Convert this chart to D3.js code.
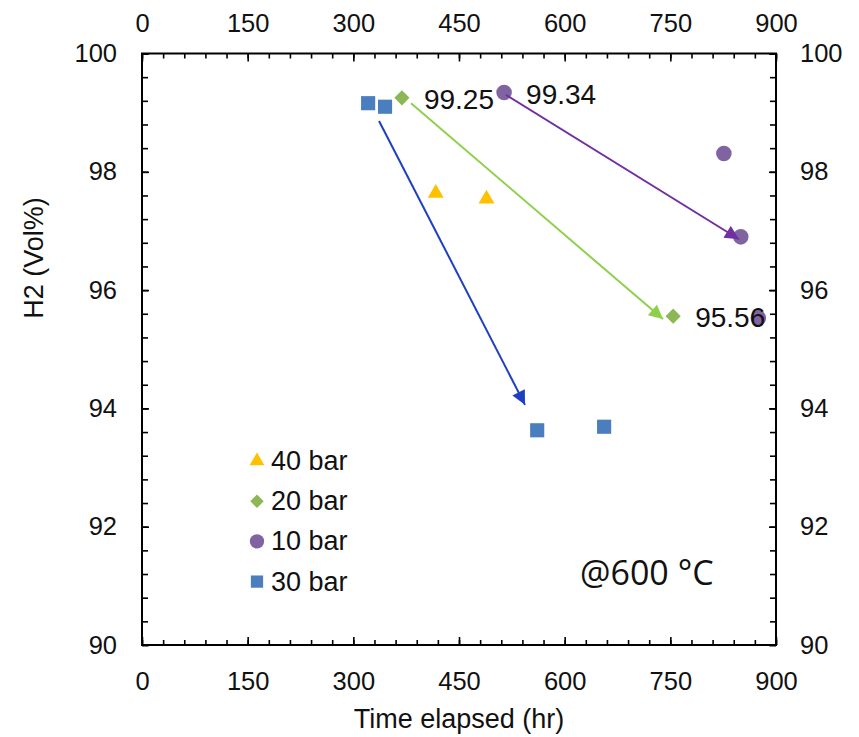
<!DOCTYPE html>
<html>
<head>
<meta charset="utf-8">
<script src="https://cdn.jsdelivr.net/npm/d3@7"></script>
<style>
  body { margin: 0; background: #fff; }
  svg { font-family: "Liberation Sans", Arial, sans-serif; }
</style>
</head>
<body>
<script>
// series values (hours, H2 vol%)
var hours40 = [417, 489];
var h2_40 = [97.64, 97.54];
var hours20 = [369, 754];
var h2_20 = [99.25, 95.56];
var hours10 = [514, 826, 850, 875];
var h2_10 = [99.34, 98.31, 96.90, 95.53];
var hours30 = [321, 345, 561, 656];
var h2_30 = [99.16, 99.10, 93.63, 93.69];

var seriesNames = ["40 bar", "20 bar", "10 bar", "30 bar"];

var xTicks = [0, 150, 300, 450, 600, 750, 900];
var yTicks = [90, 92, 94, 96, 98, 100];

// value labels
var labelHours = [369, 514, 754];
var labelH2 = [99.25, 99.34, 95.56];

// arrows [x1, y1, x2, y2] in data units
var arrowBlue = [336.5, 98.86, 543.7, 94.06];
var arrowGreen = [381.9, 99.16, 739.6, 95.51];
var arrowPurple = [516.7, 99.30, 847.5, 96.86];

var w = 859, h = 737;
var pLeft = 142, pRight = 776, pTop = 53.5, pBottom = 645;

var svg = d3.select("body").append("svg")
  .attr("width", w)
  .attr("height", h);

var x = d3.scaleLinear().domain([0, 900]).range([pLeft, pRight]);
var y = d3.scaleLinear().domain([90, 100]).range([pBottom, pTop]);

var minorX = d3.range(0, 901, 30);
var minorY = d3.range(90, 100.01, 0.4);

function styleAxis(g) {
  g.select(".domain").remove();
  g.selectAll("line").attr("stroke", "#000").attr("stroke-width", 1.6);
  g.selectAll("text").attr("font-size", "25.5px").attr("fill", "#111");
}

// minor ticks
svg.append("g").attr("transform", "translate(0," + pBottom + ")")
  .call(d3.axisBottom(x).tickValues(minorX).tickSize(-5).tickFormat("")).call(styleAxis);
svg.append("g").attr("transform", "translate(0," + pTop + ")")
  .call(d3.axisTop(x).tickValues(minorX).tickSize(-5).tickFormat("")).call(styleAxis);
svg.append("g").attr("transform", "translate(" + pLeft + ",0)")
  .call(d3.axisLeft(y).tickValues(minorY).tickSize(-6).tickFormat("")).call(styleAxis);
svg.append("g").attr("transform", "translate(" + pRight + ",0)")
  .call(d3.axisRight(y).tickValues(minorY).tickSize(-6).tickFormat("")).call(styleAxis);

// major ticks + labels
svg.append("g").attr("transform", "translate(0," + pBottom + ")")
  .call(d3.axisBottom(x).tickValues(xTicks).tickSize(-8).tickPadding(27)).call(styleAxis);
svg.append("g").attr("transform", "translate(0," + pTop + ")")
  .call(d3.axisTop(x).tickValues(xTicks).tickSize(-8).tickPadding(22)).call(styleAxis);
svg.append("g").attr("transform", "translate(" + pLeft + ",0)")
  .call(d3.axisLeft(y).tickValues(yTicks).tickSize(-7).tickPadding(25)).call(styleAxis);
svg.append("g").attr("transform", "translate(" + pRight + ",0)")
  .call(d3.axisRight(y).tickValues(yTicks).tickSize(-7).tickPadding(24)).call(styleAxis);

// frame
svg.append("rect")
  .attr("x", pLeft).attr("y", pTop)
  .attr("width", pRight - pLeft).attr("height", pBottom - pTop)
  .attr("fill", "none").attr("stroke", "#000").attr("stroke-width", 2);

// axis titles
svg.append("text")
  .attr("x", (pLeft + pRight) / 2).attr("y", 728)
  .attr("text-anchor", "middle").attr("font-size", "27px").attr("fill", "#111")
  .text("Time elapsed (hr)");
svg.append("text")
  .attr("transform", "translate(43,258) rotate(-90)")
  .attr("text-anchor", "middle").attr("font-size", "27px").attr("fill", "#111")
  .text("H2 (Vol%)");

// markers
var triangle = d3.symbol().type(d3.symbolTriangle).size(110);
var diamond = d3.symbol().type(d3.symbolSquare).size(115);
var circle = d3.symbol().type(d3.symbolCircle).size(190);
var square = d3.symbol().type(d3.symbolSquare).size(200);

function drawSeries(xs, ys, sym, color, rot) {
  svg.append("g").selectAll("path")
    .data(xs)
    .enter()
    .append("path")
    .attr("d", sym)
    .attr("transform", function(d, i) {
      return "translate(" + x(d) + "," + y(ys[i]) + ")" + (rot ? " rotate(" + rot + ")" : "");
    })
    .attr("fill", color);
}

drawSeries(hours30, h2_30, square, "#4a7ebf", 0);
drawSeries(hours40, h2_40, triangle, "#ffc000", 0);
drawSeries(hours10, h2_10, circle, "#8064a2", 0);
drawSeries(hours20, h2_20, diamond, "#8db654", 45);

// arrows
var defs = svg.append("defs");
function addArrow(a, color, id) {
  defs.append("marker")
    .attr("id", id)
    .attr("viewBox", "0 0 10 10")
    .attr("refX", 10).attr("refY", 5)
    .attr("markerUnits", "userSpaceOnUse")
    .attr("markerWidth", 16).attr("markerHeight", 14)
    .attr("orient", "auto")
    .append("path")
    .attr("d", "M0,0 L10,5 L0,10 Z")
    .attr("fill", color);
  svg.append("line")
    .attr("x1", x(a[0])).attr("y1", y(a[1]))
    .attr("x2", x(a[2])).attr("y2", y(a[3]))
    .attr("stroke", color).attr("stroke-width", 2)
    .attr("marker-end", "url(#" + id + ")");
}
addArrow(arrowBlue, "#1f3fc2", "ab");
addArrow(arrowGreen, "#8fd04a", "ag");
addArrow(arrowPurple, "#7030a0", "ap");

// value labels
svg.append("g").selectAll("text")
  .data(labelHours)
  .enter()
  .append("text")
  .attr("x", function(d) { return x(d) + 22; })
  .attr("y", function(d, i) { return y(labelH2[i]) + 11; })
  .attr("font-size", "28px")
  .attr("fill", "#111")
  .text(function(d, i) { return labelH2[i].toFixed(2); });

// legend
var legendColors = ["#ffc000", "#8db654", "#8064a2", "#4a7ebf"];
var legendRot = [0, 45, 0, 0];
var legendSize = [d3.symbol().type(d3.symbolTriangle).size(95),
                  d3.symbol().type(d3.symbolSquare).size(90),
                  d3.symbol().type(d3.symbolCircle).size(160),
                  d3.symbol().type(d3.symbolSquare).size(150)];
var legend = svg.append("g");
legend.selectAll("path")
  .data(seriesNames)
  .enter()
  .append("path")
  .attr("d", function(d, i) { return legendSize[i](); })
  .attr("transform", function(d, i) {
    return "translate(257," + (461 + i * 40.2) + ") rotate(" + legendRot[i] + ")";
  })
  .attr("fill", function(d, i) { return legendColors[i]; });
legend.selectAll("text")
  .data(seriesNames)
  .enter()
  .append("text")
  .attr("x", 271)
  .attr("y", function(d, i) { return 461 + i * 40.2 + 9; })
  .attr("font-size", "27px")
  .attr("fill", "#111")
  .text(function(d) { return d; });

// temperature note
svg.append("text")
  .attr("x", 580).attr("y", 585)
  .attr("font-family", "'Open Sans', 'Noto Sans', sans-serif")
  .attr("font-size", "34px")
  .attr("fill", "#111")
  .text("@600 °C");
</script>
</body>
</html>
